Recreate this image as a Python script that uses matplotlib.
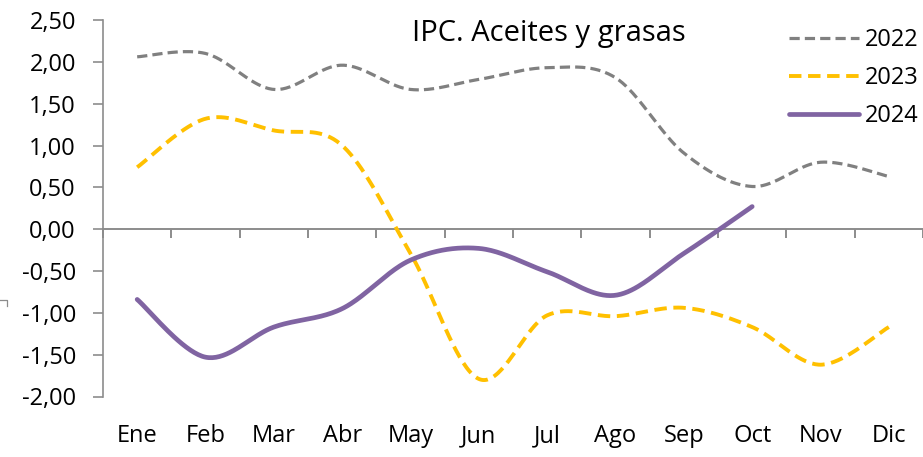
import numpy as np
import matplotlib
matplotlib.use("Agg")
import matplotlib.pyplot as plt
import matplotlib.transforms as mtransforms
from matplotlib.lines import Line2D

plt.rcParams['font.family'] = ['Open Sans', 'DejaVu Sans']

months = ["Ene", "Feb", "Mar", "Abr", "May", "Jun", "Jul", "Ago", "Sep", "Oct", "Nov", "Dic"]
s2022 = [2.06, 2.10, 1.67, 1.96, 1.67, 1.79, 1.93, 1.81, 0.91, 0.51, 0.80, 0.63]
s2023 = [0.74, 1.32, 1.18, 1.00, -0.29, -1.79, -1.03, -1.04, -0.94, -1.17, -1.62, -1.17]
s2024 = [-0.84, -1.53, -1.17, -0.95, -0.37, -0.23, -0.51, -0.79, -0.29, 0.27]
yticks = [-2.0, -1.5, -1.0, -0.5, 0.0, 0.5, 1.0, 1.5, 2.0, 2.5]
title = "IPC. Aceites y grasas"


def smooth(xs, ys, n=40):
    xs = np.asarray(xs, float)
    ys = np.asarray(ys, float)
    P = np.column_stack([xs, ys])
    out = []
    m = len(P)
    for i in range(m - 1):
        p0 = P[i - 1] if i > 0 else P[i]
        p1 = P[i]
        p2 = P[i + 1]
        p3 = P[i + 2] if i + 2 < m else P[i + 1]
        c1 = p1 + (p2 - p0) / 6.0
        c2 = p2 - (p3 - p1) / 6.0
        t = np.linspace(0, 1, n)[:, None]
        seg = ((1 - t) ** 3) * p1 + 3 * ((1 - t) ** 2) * t * c1 + 3 * (1 - t) * t ** 2 * c2 + t ** 3 * p2
        if i > 0:
            seg = seg[1:]
        out.append(seg)
    out = np.vstack(out)
    return out[:, 0], out[:, 1]


fig = plt.figure(figsize=(9.23, 4.57), dpi=100)
ax = fig.add_axes([103 / 923, 1 - 396.5 / 457, 1 - 103 / 923, (396.5 - 20) / 457])

axis_col = "#8c8c8c"
fs = 17
x22 = np.arange(len(s2022))
x23 = np.arange(len(s2023))
x24 = np.arange(len(s2024))

l22, = ax.plot(*smooth(x22, s2022), color="#808080", lw=2.3, ls=(0, (3.2, 1.6)),
               dash_capstyle="butt", label="2022", zorder=3)
l23, = ax.plot(*smooth(x23, s2023), color="#FFC000", lw=2.8, ls=(0, (3.2, 1.7)),
               dash_capstyle="butt", label="2023", zorder=3)
l24, = ax.plot(*smooth(x24, s2024), color="#8064A2", lw=3.4, solid_capstyle="round",
               label="2024", zorder=4)

ax.set_ylim(-2.0, 2.5)
ax.set_xlim(-0.5, (923 - 137.4) / 68.7)

for s in ["top", "right"]:
    ax.spines[s].set_visible(False)
ax.spines["left"].set_color(axis_col)
ax.spines["left"].set_linewidth(1.2)
ax.spines["bottom"].set_position(("data", 0))
ax.spines["bottom"].set_color(axis_col)
ax.spines["bottom"].set_linewidth(1.4)

ax.set_yticks(yticks)
ax.set_yticklabels([f"{v:.2f}".replace(".", ",") for v in yticks])
ax.tick_params(axis="y", direction="out", length=7.5, width=1.2, color=axis_col,
               pad=12, labelsize=fs, labelcolor="#000000")

ax.set_xticks([])
ax.set_xticks(np.arange(-0.5, 11.6, 1.0), minor=True)
ax.tick_params(axis="x", which="minor", direction="out", length=6.5, width=1.4,
               color=axis_col, labelbottom=False)

trans = mtransforms.blended_transform_factory(ax.transData, fig.transFigure)
for i, m in enumerate(months):
    ax.text(i, 1 - 436 / 457, m, transform=trans, ha="center", va="center",
            fontsize=fs, color="#000000", clip_on=False)

fig.text(549 / 923, 1 - 33 / 457, title, ha="center", va="center", fontsize=21,
         color="#000000")

leg = ax.legend(handles=[l22, l23, l24], loc="upper right",
                bbox_to_anchor=(919 / 923, 1 - 28 / 457), bbox_transform=fig.transFigure,
                frameon=False, fontsize=fs, handlelength=3.0, handletextpad=0.25,
                labelspacing=0.6, borderaxespad=0.0, borderpad=0.0)

# small cut-off mark at left edge
fig.add_artist(Line2D([0, 7 / 923, 7 / 923], [1 - 300 / 457, 1 - 300 / 457, 1 - 306 / 457],
                      transform=fig.transFigure, color=axis_col, lw=0.9))

fig.savefig("out.png", dpi=100)
